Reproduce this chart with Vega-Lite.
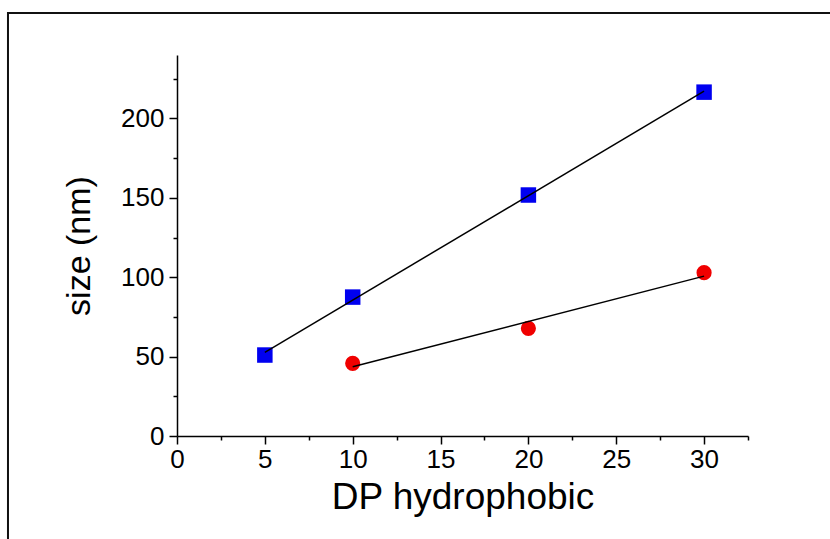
{
  "$schema": "https://vega.github.io/schema/vega-lite/v6.json",
  "width": 571,
  "height": 381,
  "autosize": "none",
  "padding": {"left": 177, "top": 55, "right": 82, "bottom": 103},
  "background": "white",
  "config": {
    "view": {"stroke": null},
    "font": "Liberation Sans",
    "axis": {
      "grid": false,
      "domainColor": "black",
      "domainWidth": 1.5,
      "tickColor": "black",
      "tickWidth": 1.5,
      "labelColor": "black",
      "titleColor": "black",
      "labelFont": "Liberation Sans",
      "titleFont": "Liberation Sans",
      "labelFontSize": 26,
      "titleFontSize": 34,
      "titleFontWeight": "normal",
      "labelOverlap": false,
      "labelFlush": false,
      "labelBound": false
    }
  },
  "datasets": {
    "pts": [
      {"dp": 5, "size": 51.0, "series": "blue"},
      {"dp": 10, "size": 87.5, "series": "blue"},
      {"dp": 20, "size": 151.8, "series": "blue"},
      {"dp": 30, "size": 216.6, "series": "blue"},
      {"dp": 10, "size": 45.8, "series": "red"},
      {"dp": 20, "size": 67.8, "series": "red"},
      {"dp": 30, "size": 102.9, "series": "red"}
    ]
  },
  "layer": [
    {
      "data": {"values": [{}]},
      "mark": {"type": "rect", "fill": null, "filled": false, "stroke": "#111111", "strokeWidth": 2, "clip": false},
      "encoding": {
        "x": {"datum": -9.62, "type": "quantitative", "scale": {"domain": [0, 32.5], "nice": false, "zero": false}},
        "x2": {"datum": 37.8},
        "y": {"datum": 266.5, "type": "quantitative", "scale": {"domain": [0, 240], "nice": false, "zero": false}},
        "y2": {"datum": -72}
      }
    },
    {
      "data": {"name": "pts"},
      "mark": {"type": "point", "filled": true, "opacity": 1, "strokeWidth": 0},
      "encoding": {
        "x": {
          "field": "dp", "type": "quantitative",
          "scale": {"domain": [0, 32.5], "nice": false, "zero": false},
          "axis": {
            "title": "DP hydrophobic",
            "titleFontSize": 37,
            "values": [0, 2.5, 5, 7.5, 10, 12.5, 15, 17.5, 20, 22.5, 25, 27.5, 30, 32.5],
            "labelExpr": "datum.value % 5 === 0 ? datum.label : ''",
            "tickSize": {"condition": {"test": "datum.value % 5 === 0", "value": 8}, "value": 4},
            "labelPadding": 2,
            "titlePadding": 7
          }
        },
        "y": {
          "field": "size", "type": "quantitative",
          "scale": {"domain": [0, 240], "nice": false, "zero": false},
          "axis": {
            "title": "size (nm)",
            "values": [0, 25, 50, 75, 100, 125, 150, 175, 200, 225],
            "labelExpr": "datum.value % 50 === 0 ? datum.label : ''",
            "tickSize": {"condition": {"test": "datum.value % 50 === 0", "value": 8}, "value": 4},
            "labelPadding": 5,
            "titlePadding": 24
          }
        },
        "color": {"field": "series", "type": "nominal", "scale": {"domain": ["blue", "red"], "range": ["#0000f0", "#f00000"]}, "legend": null},
        "shape": {"field": "series", "type": "nominal", "scale": {"domain": ["blue", "red"], "range": ["square", "circle"]}, "legend": null},
        "size": {"field": "series", "type": "nominal", "scale": {"domain": ["blue", "red"], "range": [240, 230]}, "legend": null}
      }
    },
    {
      "data": {"name": "pts"},
      "transform": [{"regression": "size", "on": "dp", "groupby": ["series"]}],
      "mark": {"type": "line", "color": "black", "strokeWidth": 1.5},
      "encoding": {
        "x": {"field": "dp", "type": "quantitative"},
        "y": {"field": "size", "type": "quantitative"},
        "detail": {"field": "series", "type": "nominal"}
      }
    }
  ]
}
